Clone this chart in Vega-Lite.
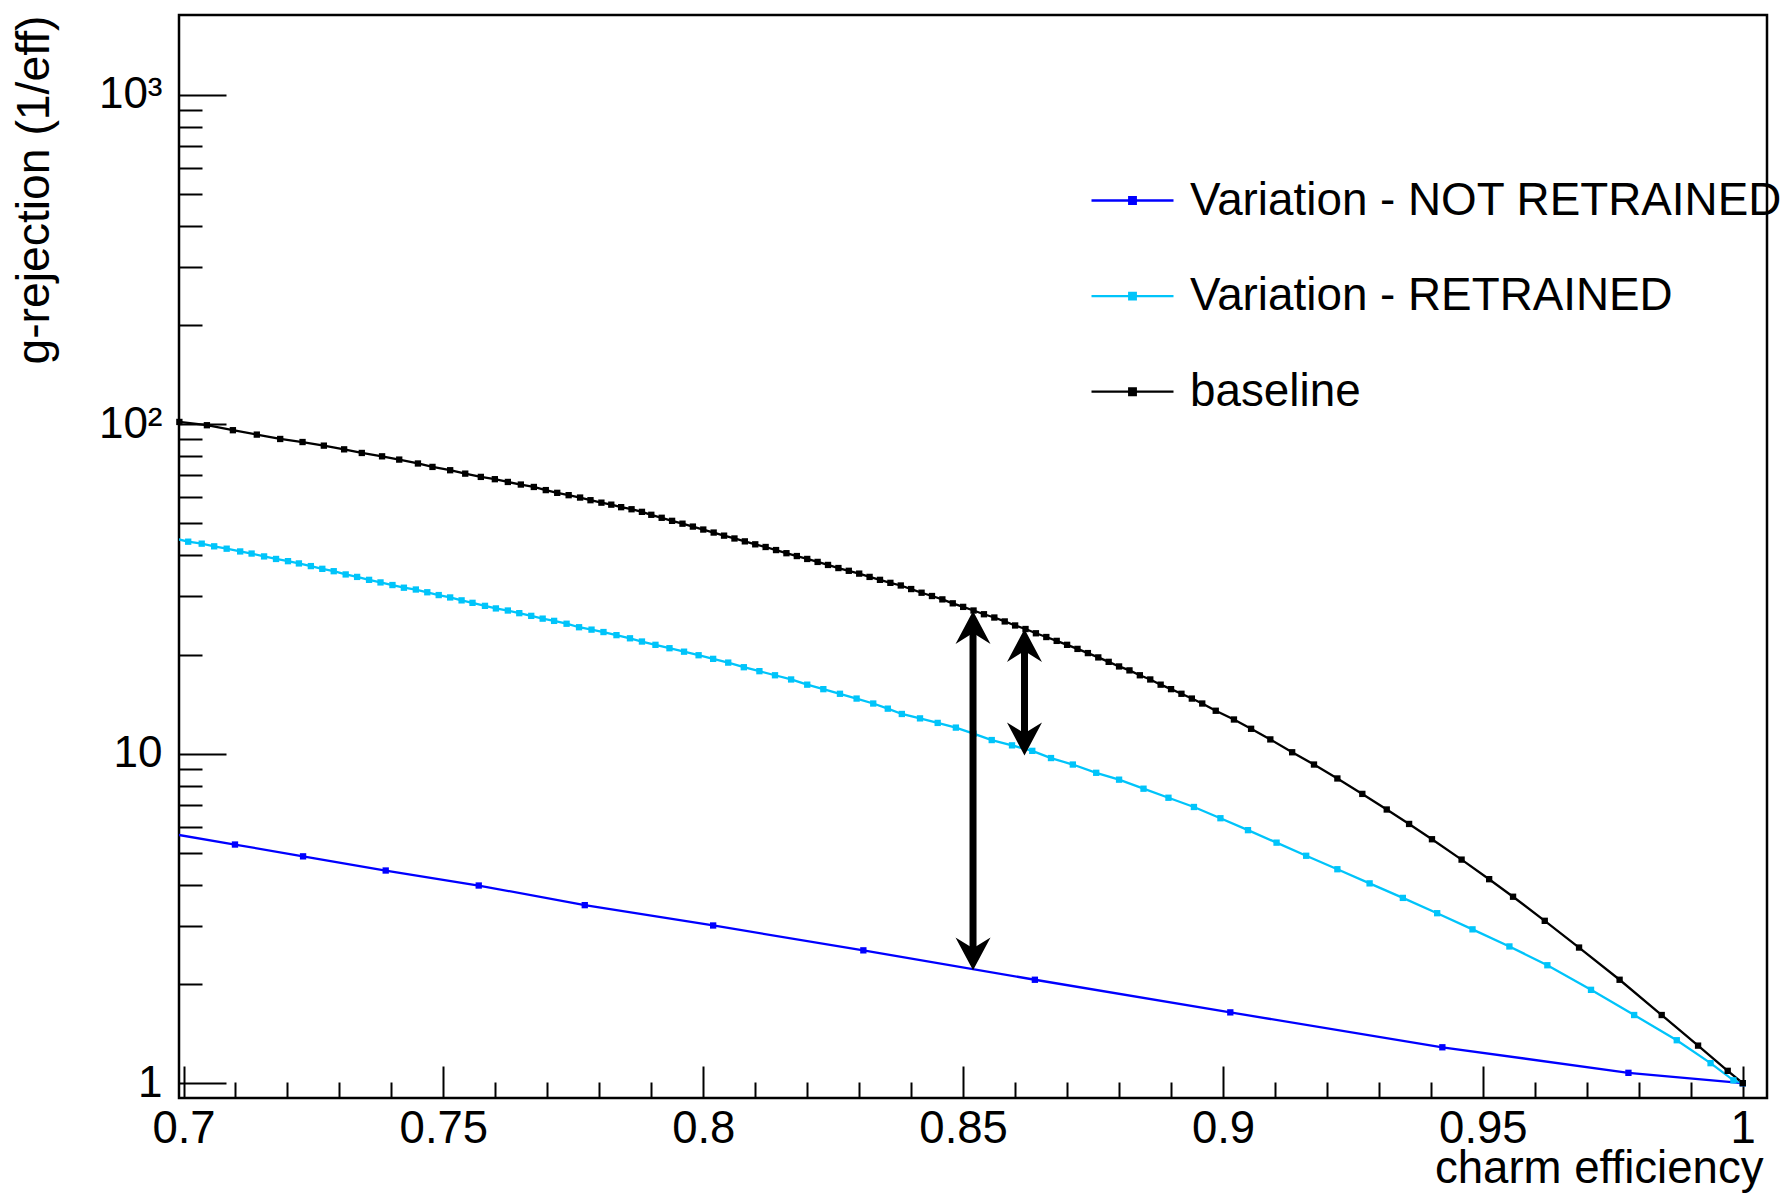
{
"$schema": "https://vega.github.io/schema/vega-lite/v6.json",
"width": 1588, "height": 1083,
"autosize": {"type": "none"},
"padding": {"left": 179, "top": 15, "right": 17, "bottom": 95},
"background": "white",
"config": {
  "view": {"stroke": "black", "strokeWidth": 2.5},
  "font": "Liberation Sans",
  "axis": {"grid": false, "domain": false, "labelFont": "Liberation Sans", "titleFont": "Liberation Sans", "labelColor": "black", "titleColor": "black", "tickColor": "black", "tickWidth": 2, "titleFontWeight": "normal"}
},
"datasets": {
"curves": [
{"s":"Variation - NOT RETRAINED","x":0.695,"y":5.81},{"s":"Variation - NOT RETRAINED","x":0.7099,"y":5.30},{"s":"Variation - NOT RETRAINED","x":0.7230,"y":4.88},{"s":"Variation - NOT RETRAINED","x":0.7389,"y":4.42},{"s":"Variation - NOT RETRAINED","x":0.7568,"y":3.98},{"s":"Variation - NOT RETRAINED","x":0.7772,"y":3.47},{"s":"Variation - NOT RETRAINED","x":0.8019,"y":3.01},{"s":"Variation - NOT RETRAINED","x":0.8308,"y":2.53},{"s":"Variation - NOT RETRAINED","x":0.8638,"y":2.06},{"s":"Variation - NOT RETRAINED","x":0.9014,"y":1.64},{"s":"Variation - NOT RETRAINED","x":0.9422,"y":1.285},{"s":"Variation - NOT RETRAINED","x":0.9780,"y":1.075},{"s":"Variation - NOT RETRAINED","x":1.0,"y":1.0},
{"s":"Variation - RETRAINED","x":0.6985,"y":44.9},{"s":"Variation - RETRAINED","x":0.7009,"y":44.0},{"s":"Variation - RETRAINED","x":0.7035,"y":43.4},{"s":"Variation - RETRAINED","x":0.7059,"y":42.6},{"s":"Variation - RETRAINED","x":0.7083,"y":41.9},{"s":"Variation - RETRAINED","x":0.7109,"y":41.1},{"s":"Variation - RETRAINED","x":0.7131,"y":40.5},{"s":"Variation - RETRAINED","x":0.7155,"y":39.7},{"s":"Variation - RETRAINED","x":0.7178,"y":39.0},{"s":"Variation - RETRAINED","x":0.7201,"y":38.4},{"s":"Variation - RETRAINED","x":0.7222,"y":37.8},{"s":"Variation - RETRAINED","x":0.7245,"y":37.1},{"s":"Variation - RETRAINED","x":0.7267,"y":36.4},{"s":"Variation - RETRAINED","x":0.7289,"y":35.8},{"s":"Variation - RETRAINED","x":0.7312,"y":35.0},{"s":"Variation - RETRAINED","x":0.7334,"y":34.4},{"s":"Variation - RETRAINED","x":0.7357,"y":33.7},{"s":"Variation - RETRAINED","x":0.7379,"y":33.1},{"s":"Variation - RETRAINED","x":0.7402,"y":32.5},{"s":"Variation - RETRAINED","x":0.7424,"y":31.9},{"s":"Variation - RETRAINED","x":0.7447,"y":31.5},{"s":"Variation - RETRAINED","x":0.7469,"y":30.9},{"s":"Variation - RETRAINED","x":0.7491,"y":30.3},{"s":"Variation - RETRAINED","x":0.7513,"y":29.8},{"s":"Variation - RETRAINED","x":0.7535,"y":29.2},{"s":"Variation - RETRAINED","x":0.7556,"y":28.7},{"s":"Variation - RETRAINED","x":0.7580,"y":28.1},{"s":"Variation - RETRAINED","x":0.7601,"y":27.6},{"s":"Variation - RETRAINED","x":0.7624,"y":27.2},{"s":"Variation - RETRAINED","x":0.7646,"y":26.7},{"s":"Variation - RETRAINED","x":0.7669,"y":26.2},{"s":"Variation - RETRAINED","x":0.7691,"y":25.7},{"s":"Variation - RETRAINED","x":0.7713,"y":25.3},{"s":"Variation - RETRAINED","x":0.7737,"y":24.8},{"s":"Variation - RETRAINED","x":0.7761,"y":24.2},{"s":"Variation - RETRAINED","x":0.7785,"y":23.8},{"s":"Variation - RETRAINED","x":0.7808,"y":23.4},{"s":"Variation - RETRAINED","x":0.7833,"y":22.9},{"s":"Variation - RETRAINED","x":0.7859,"y":22.4},{"s":"Variation - RETRAINED","x":0.7882,"y":21.9},
{"s":"Variation - RETRAINED","x":0.7908,"y":21.4},{"s":"Variation - RETRAINED","x":0.7935,"y":20.9},{"s":"Variation - RETRAINED","x":0.7963,"y":20.4},{"s":"Variation - RETRAINED","x":0.7991,"y":19.9},{"s":"Variation - RETRAINED","x":0.8019,"y":19.4},{"s":"Variation - RETRAINED","x":0.8048,"y":18.9},{"s":"Variation - RETRAINED","x":0.8078,"y":18.3},{"s":"Variation - RETRAINED","x":0.8108,"y":17.8},{"s":"Variation - RETRAINED","x":0.8138,"y":17.3},{"s":"Variation - RETRAINED","x":0.8169,"y":16.8},{"s":"Variation - RETRAINED","x":0.8200,"y":16.2},{"s":"Variation - RETRAINED","x":0.8231,"y":15.7},{"s":"Variation - RETRAINED","x":0.8263,"y":15.2},{"s":"Variation - RETRAINED","x":0.8295,"y":14.7},{"s":"Variation - RETRAINED","x":0.8327,"y":14.2},{"s":"Variation - RETRAINED","x":0.8355,"y":13.7},
{"s":"Variation - RETRAINED","x":0.8382,"y":13.2},{"s":"Variation - RETRAINED","x":0.8417,"y":12.8},{"s":"Variation - RETRAINED","x":0.8451,"y":12.4},{"s":"Variation - RETRAINED","x":0.8486,"y":12.0},{"s":"Variation - RETRAINED","x":0.8520,"y":11.5},{"s":"Variation - RETRAINED","x":0.8555,"y":11.0},{"s":"Variation - RETRAINED","x":0.8594,"y":10.6},{"s":"Variation - RETRAINED","x":0.8633,"y":10.2},{"s":"Variation - RETRAINED","x":0.8669,"y":9.70},{"s":"Variation - RETRAINED","x":0.8711,"y":9.27},{"s":"Variation - RETRAINED","x":0.8756,"y":8.75},{"s":"Variation - RETRAINED","x":0.8800,"y":8.34},{"s":"Variation - RETRAINED","x":0.8847,"y":7.83},{"s":"Variation - RETRAINED","x":0.8895,"y":7.35},{"s":"Variation - RETRAINED","x":0.8944,"y":6.89},
{"s":"Variation - RETRAINED","x":0.8995,"y":6.37},{"s":"Variation - RETRAINED","x":0.9048,"y":5.86},{"s":"Variation - RETRAINED","x":0.9103,"y":5.37},{"s":"Variation - RETRAINED","x":0.9160,"y":4.90},{"s":"Variation - RETRAINED","x":0.9220,"y":4.46},{"s":"Variation - RETRAINED","x":0.9282,"y":4.04},{"s":"Variation - RETRAINED","x":0.9346,"y":3.65},{"s":"Variation - RETRAINED","x":0.9412,"y":3.28},{"s":"Variation - RETRAINED","x":0.9480,"y":2.93},{"s":"Variation - RETRAINED","x":0.9551,"y":2.60},{"s":"Variation - RETRAINED","x":0.9624,"y":2.28},{"s":"Variation - RETRAINED","x":0.9708,"y":1.92},{"s":"Variation - RETRAINED","x":0.9791,"y":1.61},{"s":"Variation - RETRAINED","x":0.9873,"y":1.35},{"s":"Variation - RETRAINED","x":0.9938,"y":1.15},{"s":"Variation - RETRAINED","x":0.9982,"y":1.02},{"s":"Variation - RETRAINED","x":1.0,"y":1.0},
{"s":"baseline","x":0.6992,"y":101.6},{"s":"baseline","x":0.7045,"y":99.3},{"s":"baseline","x":0.7095,"y":95.9},{"s":"baseline","x":0.7141,"y":93.0},{"s":"baseline","x":0.7186,"y":90.2},{"s":"baseline","x":0.7229,"y":88.3},{"s":"baseline","x":0.7270,"y":86.1},{"s":"baseline","x":0.7309,"y":83.9},{"s":"baseline","x":0.7343,"y":81.8},{"s":"baseline","x":0.7382,"y":79.9},{"s":"baseline","x":0.7415,"y":78.1},{"s":"baseline","x":0.7451,"y":76.0},{"s":"baseline","x":0.7479,"y":74.2},{"s":"baseline","x":0.7513,"y":72.5},{"s":"baseline","x":0.7542,"y":70.8},{"s":"baseline","x":0.7572,"y":69.2},{"s":"baseline","x":0.7599,"y":68.1},{"s":"baseline","x":0.7624,"y":66.8},{"s":"baseline","x":0.7649,"y":65.6},{"s":"baseline","x":0.7674,"y":64.5},{"s":"baseline","x":0.7697,"y":63.1},{"s":"baseline","x":0.7719,"y":61.9},{"s":"baseline","x":0.7741,"y":60.9},{"s":"baseline","x":0.7763,"y":59.9},{"s":"baseline","x":0.7783,"y":58.8},{"s":"baseline","x":0.7804,"y":57.8},{"s":"baseline","x":0.7823,"y":57.0},{"s":"baseline","x":0.7842,"y":56.0},{"s":"baseline","x":0.7862,"y":55.2},{"s":"baseline","x":0.7882,"y":54.2},
{"s":"baseline","x":0.790,"y":53.1},{"s":"baseline","x":0.792,"y":52.0},{"s":"baseline","x":0.794,"y":50.9},{"s":"baseline","x":0.796,"y":49.9},{"s":"baseline","x":0.798,"y":48.9},{"s":"baseline","x":0.800,"y":47.9},{"s":"baseline","x":0.802,"y":46.9},{"s":"baseline","x":0.804,"y":45.9},{"s":"baseline","x":0.806,"y":45.0},{"s":"baseline","x":0.808,"y":44.1},{"s":"baseline","x":0.810,"y":43.2},{"s":"baseline","x":0.812,"y":42.4},{"s":"baseline","x":0.814,"y":41.5},{"s":"baseline","x":0.816,"y":40.6},{"s":"baseline","x":0.818,"y":39.8},{"s":"baseline","x":0.820,"y":39.0},{"s":"baseline","x":0.822,"y":38.2},{"s":"baseline","x":0.824,"y":37.4},{"s":"baseline","x":0.826,"y":36.6},{"s":"baseline","x":0.828,"y":35.9},{"s":"baseline","x":0.830,"y":35.2},{"s":"baseline","x":0.832,"y":34.4},{"s":"baseline","x":0.834,"y":33.7},{"s":"baseline","x":0.836,"y":33.0},{"s":"baseline","x":0.838,"y":32.4},{"s":"baseline","x":0.840,"y":31.6},{"s":"baseline","x":0.842,"y":30.8},{"s":"baseline","x":0.844,"y":30.1},{"s":"baseline","x":0.846,"y":29.4},{"s":"baseline","x":0.848,"y":28.6},{"s":"baseline","x":0.850,"y":27.9},{"s":"baseline","x":0.852,"y":27.2},{"s":"baseline","x":0.854,"y":26.5},{"s":"baseline","x":0.856,"y":25.9},{"s":"baseline","x":0.858,"y":25.2},{"s":"baseline","x":0.860,"y":24.5},{"s":"baseline","x":0.862,"y":23.9},{"s":"baseline","x":0.864,"y":23.2},{"s":"baseline","x":0.866,"y":22.6},{"s":"baseline","x":0.868,"y":22.0},{"s":"baseline","x":0.870,"y":21.4},{"s":"baseline","x":0.872,"y":20.8},{"s":"baseline","x":0.874,"y":20.2},{"s":"baseline","x":0.876,"y":19.6},{"s":"baseline","x":0.878,"y":19.0},{"s":"baseline","x":0.880,"y":18.4},{"s":"baseline","x":0.882,"y":17.9},{"s":"baseline","x":0.884,"y":17.3},{"s":"baseline","x":0.886,"y":16.8},{"s":"baseline","x":0.888,"y":16.2},{"s":"baseline","x":0.890,"y":15.7},{"s":"baseline","x":0.892,"y":15.2},{"s":"baseline","x":0.894,"y":14.7},{"s":"baseline","x":0.896,"y":14.2},
{"s":"baseline","x":0.8986,"y":13.5},{"s":"baseline","x":0.9021,"y":12.7},{"s":"baseline","x":0.9054,"y":11.9},{"s":"baseline","x":0.9091,"y":11.05},{"s":"baseline","x":0.9133,"y":10.1},{"s":"baseline","x":0.9175,"y":9.27},{"s":"baseline","x":0.9220,"y":8.41},{"s":"baseline","x":0.9268,"y":7.55},{"s":"baseline","x":0.9315,"y":6.77},{"s":"baseline","x":0.9358,"y":6.12},{"s":"baseline","x":0.9402,"y":5.50},{"s":"baseline","x":0.9459,"y":4.77},{"s":"baseline","x":0.9512,"y":4.16},{"s":"baseline","x":0.9558,"y":3.68},{"s":"baseline","x":0.9619,"y":3.11},{"s":"baseline","x":0.9685,"y":2.58},{"s":"baseline","x":0.9763,"y":2.06},{"s":"baseline","x":0.9844,"y":1.61},{"s":"baseline","x":0.9914,"y":1.30},{"s":"baseline","x":0.9971,"y":1.09},{"s":"baseline","x":1.0,"y":1.0}
],
"arrows": [{"x": 0.8519, "top": 27.1, "bot": 2.20}, {"x": 0.8618, "top": 23.9, "bot": 9.88}]
},
"layer": [
{
  "data": {"name": "curves"},
  "mark": {"type": "line", "clip": true, "strokeWidth": 2.3},
  "encoding": {
    "x": {"field": "x", "type": "quantitative", "scale": {"domain": [0.69913, 1.00466], "nice": false, "zero": false},
      "axis": {"orient": "bottom", "values": [0.7, 0.75, 0.8, 0.85, 0.9, 0.95, 1], "format": "~g", "ticks": false, "labelFontSize": 45.5, "labelPadding": 8, "labelFlush": false, "labelOverlap": false,
        "title": "charm efficiency", "titleFontSize": 45.6, "titleX": 1584, "titleY": 84, "titleAlign": "right", "titleBaseline": "alphabetic", "titleAngle": 0}},
    "y": {"field": "y", "type": "quantitative", "scale": {"type": "log", "domain": [0.9015, 1746], "nice": false},
      "axis": {"orient": "left", "values": [1, 10, 100, 1000], "ticks": false, "labelFontSize": 44, "labelPadding": 17, "labelOverlap": false, "labelFlush": false,
        "labelExpr": "datum.value == 1000 ? '10³' : datum.value == 100 ? '10²' : datum.value == 10 ? '10' : '1'",
        "title": "g-rejection (1/eff)", "titleFontSize": 46.3, "titleAngle": -90, "titleX": -131, "titleY": 0, "titleAlign": "right", "titleBaseline": "alphabetic"}},
    "color": {"field": "s", "type": "nominal",
      "scale": {"domain": ["Variation - NOT RETRAINED", "Variation - RETRAINED", "baseline"], "range": ["#0000ff", "#00c4fa", "#000000"]},
      "legend": {"orient": "none", "legendX": 911, "legendY": 143, "title": null, "padding": 0,
        "symbolType": "M-1,0L1,0M-0.08,-0.08L0.08,-0.08L0.08,0.08L-0.08,0.08Z", "symbolSize": 6724, "symbolStrokeWidth": 2.3,
        "labelFont": "Liberation Sans", "labelFontSize": 45.8, "labelColor": "black", "labelOffset": 15, "labelLimit": 0, "rowPadding": 29.6,
        "encode": {"symbols": {"update": {"fill": {"field": "value", "scale": "color"}, "stroke": {"field": "value", "scale": "color"}, "fillOpacity": {"value": 1}, "opacity": {"value": 1}}}}}}
  }
},
{
  "data": {"name": "curves"},
  "transform": [{"filter": "datum.x >= 0.699"}],
  "mark": {"type": "point", "shape": "square", "filled": true, "size": 40, "opacity": 1},
  "encoding": {
    "x": {"field": "x", "type": "quantitative", "scale": {"domain": [0.69913, 1.00466], "nice": false, "zero": false},
      "axis": {"orient": "bottom", "values": [0.7, 0.75, 0.8, 0.85, 0.9, 0.95, 1], "labels": false, "ticks": true, "tickSize": -32, "title": null}},
    "y": {"field": "y", "type": "quantitative", "scale": {"type": "log", "domain": [0.9015, 1746], "nice": false},
      "axis": {"orient": "left", "values": [1, 10, 100, 1000], "labels": false, "ticks": true, "tickSize": -47, "title": null}},
    "color": {"field": "s", "type": "nominal", "scale": {"domain": ["Variation - NOT RETRAINED", "Variation - RETRAINED", "baseline"], "range": ["#0000ff", "#00c4fa", "#000000"]}}
  }
},
{
  "data": {"name": "arrows"},
  "mark": {"type": "rule", "strokeWidth": 7, "color": "black", "yOffset": 20, "y2Offset": -20},
  "encoding": {
    "x": {"field": "x", "type": "quantitative", "scale": {"domain": [0.69913, 1.00466], "nice": false, "zero": false},
      "axis": {"orient": "bottom", "values": [0.71,0.72,0.73,0.74,0.76,0.77,0.78,0.79,0.81,0.82,0.83,0.84,0.86,0.87,0.88,0.89,0.91,0.92,0.93,0.94,0.96,0.97,0.98,0.99], "labels": false, "ticks": true, "tickSize": -16, "title": null}},
    "y": {"field": "top", "type": "quantitative", "scale": {"type": "log", "domain": [0.9015, 1746], "nice": false},
      "axis": {"orient": "left", "values": [2,3,4,5,6,7,8,9,20,30,40,50,60,70,80,90,200,300,400,500,600,700,800,900], "labels": false, "ticks": true, "tickSize": -23, "title": null}},
    "y2": {"field": "bot"}
  }
},
{
  "data": {"name": "arrows"},
  "mark": {"type": "point", "shape": "M0,0L-0.5,0.94L0,0.63L0.5,0.94Z", "size": 4900, "filled": true, "color": "black", "opacity": 1, "strokeWidth": 0},
  "encoding": {
    "x": {"field": "x", "type": "quantitative", "scale": {"domain": [0.69913, 1.00466], "nice": false, "zero": false}, "axis": null},
    "y": {"field": "top", "type": "quantitative", "scale": {"type": "log", "domain": [0.9015, 1746], "nice": false}, "axis": null}
  }
},
{
  "data": {"name": "arrows"},
  "mark": {"type": "point", "shape": "M0,0L-0.5,-0.94L0,-0.63L0.5,-0.94Z", "size": 4900, "filled": true, "color": "black", "opacity": 1, "strokeWidth": 0},
  "encoding": {
    "x": {"field": "x", "type": "quantitative", "scale": {"domain": [0.69913, 1.00466], "nice": false, "zero": false}, "axis": null},
    "y": {"field": "bot", "type": "quantitative", "scale": {"type": "log", "domain": [0.9015, 1746], "nice": false}, "axis": null}
  }
}
],
"resolve": {"axis": {"x": "independent", "y": "independent"}}
}
